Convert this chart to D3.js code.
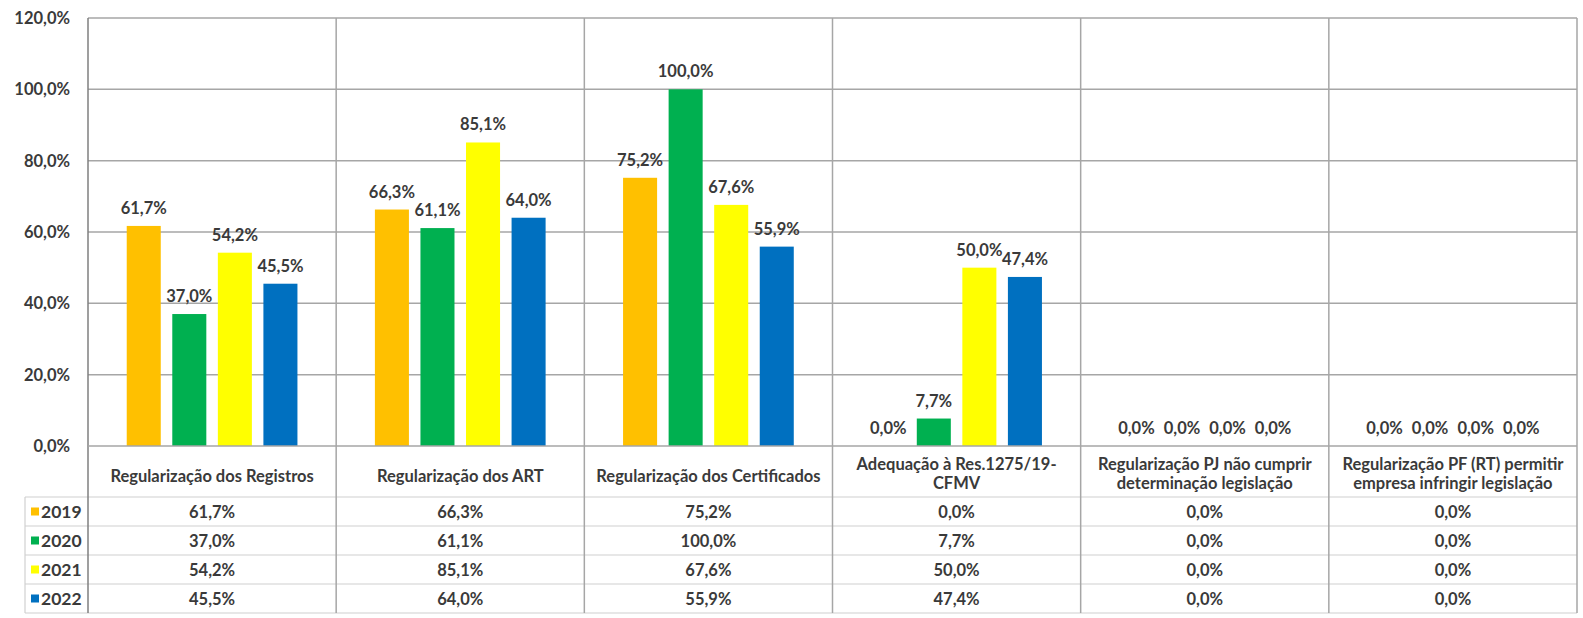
<!DOCTYPE html>
<html>
<head>
<meta charset="utf-8">
<script src="https://cdn.jsdelivr.net/npm/d3@7"></script>
<style>
  body { margin: 0; background: #fff; }
  text { font-family: Lato, 'Open Sans', sans-serif; font-weight: bold; fill: #3a3a3a; }
</style>
</head>
<body>
<div class="chart"></div>
<script>
const categories = [
  'Regularização dos Registros',
  'Regularização dos ART',
  'Regularização dos Certificados',
  'Adequação à Res.1275/19-\nCFMV',
  'Regularização PJ não cumprir\ndeterminação legislação',
  'Regularização PF (RT) permitir\nempresa infringir legislação',
];
const years = ['2019', '2020', '2021', '2022'];
const values2019 = [61.7, 66.3, 75.2, 0.0, 0.0, 0.0];
const values2020 = [37.0, 61.1, 100.0, 7.7, 0.0, 0.0];
const values2021 = [54.2, 85.1, 67.6, 50.0, 0.0, 0.0];
const values2022 = [45.5, 64.0, 55.9, 47.4, 0.0, 0.0];
const yTicks = [0, 20, 40, 60, 80, 100, 120];

const seriesValues = [values2019, values2020, values2021, values2022];
const colors = d3.scaleOrdinal().domain(years).range(['#FFC000', '#00B050', '#FFFF00', '#0070C0']);

const width = 1583;
const height = 618;
const margin = { top: 18, right: 6, left: 88 };
const plotBottom = 446;
const labelRowBottom = 497;
const rowH = 29;
const tableLeft = 25;
const fontSize = '16.5px';

const locale = d3.formatLocale({ decimal: ',', thousands: '.', grouping: [3], currency: ['', ''] });
const fmt = (v) => locale.format('.1f')(v) + '%';

const svg = d3.select('.chart').append('svg').attr('width', width).attr('height', height);

const x0 = d3.scaleBand().domain(categories).range([margin.left, width - margin.right]);
const x1 = d3.scaleBand().domain(years).range([0, x0.bandwidth()]).paddingInner(0.253).paddingOuter(0.85);
const y = d3.scaleLinear().domain([0, 120]).range([plotBottom, margin.top]);

// horizontal gridlines
svg.append('g')
  .selectAll('line')
  .data(yTicks.slice(1))
  .join('line')
  .attr('x1', margin.left)
  .attr('x2', width - margin.right)
  .attr('y1', (d) => y(d))
  .attr('y2', (d) => y(d))
  .attr('stroke', '#a6a6a6')
  .attr('stroke-width', 1.5);

// y labels
svg.append('g')
  .selectAll('text')
  .data(yTicks)
  .join('text')
  .attr('x', 70)
  .attr('y', (d) => y(d) + 6)
  .attr('text-anchor', 'end')
  .style('font-size', fontSize)
  .text((d) => fmt(d));

const tableBottom = labelRowBottom + rowH * years.length;

// table horizontal lines
svg.append('g')
  .selectAll('line')
  .data(d3.range(years.length + 1))
  .join('line')
  .attr('x1', tableLeft)
  .attr('x2', width - margin.right)
  .attr('y1', (i) => labelRowBottom + i * rowH)
  .attr('y2', (i) => labelRowBottom + i * rowH)
  .attr('stroke', '#d0d0d0')
  .attr('stroke-width', 1.2);

// vertical dividers
svg.append('g')
  .selectAll('line')
  .data(categories.slice(1))
  .join('line')
  .attr('x1', (d) => x0(d))
  .attr('x2', (d) => x0(d))
  .attr('y1', margin.top)
  .attr('y2', tableBottom)
  .attr('stroke', '#a6a6a6')
  .attr('stroke-width', 1.5);

svg.append('line')
  .attr('x1', width - margin.right).attr('x2', width - margin.right)
  .attr('y1', margin.top).attr('y2', tableBottom)
  .attr('stroke', '#a6a6a6').attr('stroke-width', 1.5);

svg.append('line')
  .attr('x1', tableLeft).attr('x2', tableLeft)
  .attr('y1', labelRowBottom).attr('y2', tableBottom)
  .attr('stroke', '#d0d0d0').attr('stroke-width', 1.2);

// bars
const groups = svg.append('g')
  .selectAll('g')
  .data(years)
  .join('g')
  .attr('fill', (d) => colors(d));

groups.selectAll('rect')
  .data((yr, i) => categories.map((c, j) => ({ c, yr, v: seriesValues[i][j] })))
  .join('rect')
  .attr('x', (d) => x0(d.c) + x1(d.yr))
  .attr('width', x1.bandwidth())
  .attr('y', (d) => y(d.v))
  .attr('height', (d) => y(0) - y(d.v));

groups.selectAll('text')
  .data((yr, i) => categories.map((c, j) => ({ c, yr, v: seriesValues[i][j] })))
  .join('text')
  .attr('x', (d) => x0(d.c) + x1(d.yr) + x1.bandwidth() / 2)
  .attr('y', (d) => y(d.v) - 12)
  .attr('text-anchor', 'middle')
  .style('font-size', fontSize)
  .text((d) => fmt(d.v));

// axis lines
svg.append('line')
  .attr('x1', margin.left).attr('x2', margin.left)
  .attr('y1', margin.top).attr('y2', tableBottom)
  .attr('stroke', '#7f7f7f').attr('stroke-width', 1.5);
svg.append('line')
  .attr('x1', margin.left).attr('x2', width - margin.right)
  .attr('y1', plotBottom).attr('y2', plotBottom)
  .attr('stroke', '#a6a6a6').attr('stroke-width', 1.5);

// category labels
const catLabels = svg.append('g')
  .selectAll('text')
  .data(categories)
  .join('text')
  .attr('text-anchor', 'middle')
  .style('font-size', fontSize);

catLabels.each(function (d) {
  const lines = d.split('\n');
  const base = lines.length === 1 ? 482 : 470;
  d3.select(this)
    .selectAll('tspan')
    .data(lines)
    .join('tspan')
    .attr('x', x0(d) + x0.bandwidth() / 2)
    .attr('y', (l, i) => base + i * 19)
    .text((l) => l);
});

// table rows
years.forEach((yr, i) => {
  const rowY = labelRowBottom + i * rowH + rowH / 2;
  svg.append('rect')
    .attr('x', 31).attr('y', rowY - 4)
    .attr('width', 8).attr('height', 8)
    .attr('fill', colors(yr));
  svg.append('text')
    .attr('x', 41).attr('y', rowY + 6.5)
    .style('font-size', '17.5px')
    .text(yr);
  svg.append('g')
    .selectAll('text')
    .data(categories)
    .join('text')
    .attr('x', (c) => x0(c) + x0.bandwidth() / 2)
    .attr('y', rowY + 6)
    .attr('text-anchor', 'middle')
    .style('font-size', fontSize)
    .text((c, j) => fmt(seriesValues[i][j]));
});
</script>
</body>
</html>
